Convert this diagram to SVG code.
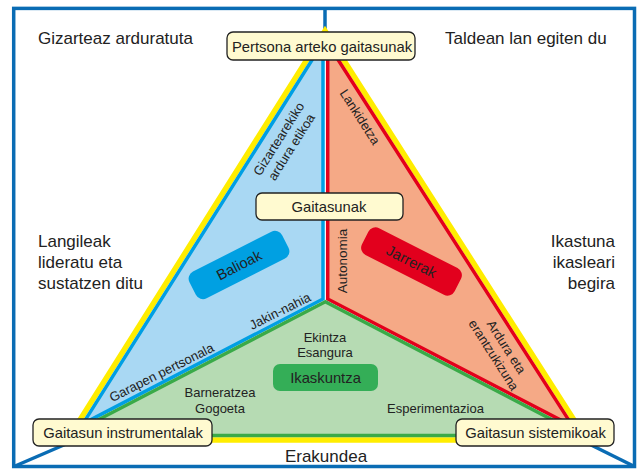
<svg xmlns="http://www.w3.org/2000/svg" width="638" height="470" viewBox="0 0 638 470">
<style>
text{font-family:"Liberation Sans",Arial,sans-serif;fill:#222}
.outer{font-size:17px}
.lbl{font-size:14.8px;text-anchor:middle}
.sm{font-size:13px;text-anchor:middle}
.box{fill:#fffad0;stroke:#222;stroke-width:1.3}
.frame{fill:none;stroke:#0a6cb4;stroke-width:3.5}
</style>
<rect width="638" height="470" fill="#fff"/>
<g id="frame"><rect class="frame" x="13.7" y="8.4" width="620.8" height="458.1"/></g>
<g id="connectors" stroke="#0a6cb4" stroke-width="3.5" fill="none">
<line x1="325" y1="8" x2="325" y2="30"/>
<line x1="14" y1="466.5" x2="80" y2="438"/>
<line x1="634.5" y1="466.5" x2="575" y2="437"/>
</g>
<g id="triangle">
<polygon points="325,31 67.3,440 586.8,440" fill="#fff" stroke="#ffed00" stroke-width="5.5"/>
</g>
<g id="balioak-region"><polygon points="323,42.6 323,299 82.8,423.9" fill="#a9d8f3" stroke="#009fe3" stroke-width="3.5"/></g>
<g id="jarrerak-region"><polygon points="327.7,43.5 572.8,426.4 327.7,299" fill="#f5a986" stroke="#e3001b" stroke-width="3.5"/></g>
<g id="ikaskuntza-region"><polygon points="325.3,301.7 79,429.8 75.5,435.5 578.6,435.5 576.6,432.4" fill="#b6dbb3" stroke="#3aaa48" stroke-width="3.5"/></g>

<g id="outer-labels">
<text class="outer" x="38" y="43.5">Gizarteaz arduratuta</text>
<text class="outer" x="445" y="43.5">Taldean lan egiten du</text>
<text class="outer" x="38" y="247">Langileak</text>
<text class="outer" x="38" y="268">lideratu eta</text>
<text class="outer" x="38" y="289">sustatzen ditu</text>
<text class="outer" x="615" y="247" text-anchor="end">Ikastuna</text>
<text class="outer" x="615" y="268" text-anchor="end">ikasleari</text>
<text class="outer" x="615" y="289" text-anchor="end">begira</text>
<text class="outer" x="326" y="462" text-anchor="middle">Erakundea</text>
</g>

<g id="inner-labels">
<g transform="translate(285,143) rotate(-57.8)"><text class="sm" y="-3">Gizartearekiko</text><text class="sm" y="12">ardura etikoa</text></g>
<g transform="translate(360,117) rotate(57.4)"><text class="sm" y="4.5">Lankidetza</text></g>
<g transform="translate(500,351) rotate(57.4)"><text class="sm" y="-3">Ardura eta</text><text class="sm" y="12">erantzukizuna</text></g>
<g transform="translate(342,261) rotate(-90)"><text class="sm" y="4.5" style="font-size:13.5px">Autonomia</text></g>
<g transform="translate(280,311) rotate(-26.6)"><text class="sm" y="4.5">Jakin-nahia</text></g>
<g transform="translate(161.5,372.5) rotate(-26.6)"><text class="sm" y="4.5">Garapen pertsonala</text></g>
<text class="sm" x="325" y="341.5">Ekintza</text>
<text class="sm" x="325" y="357">Esangura</text>
<text class="sm" x="220" y="397">Barneratzea</text>
<text class="sm" x="220" y="413">Gogoeta</text>
<text class="sm" x="435.5" y="413">Esperimentazioa</text>
</g>

<g id="balioak" transform="translate(239,265) rotate(-27)"><rect x="-52" y="-15" width="104" height="30" rx="8" fill="#00a0e2"/><text class="lbl" y="5.2">Balioak</text></g>
<g id="jarrerak" transform="translate(411.5,261.5) rotate(27)"><rect x="-52" y="-15" width="104" height="30" rx="8" fill="#e2001d"/><text class="lbl" y="5.2">Jarrerak</text></g>
<g id="ikaskuntza"><rect x="273" y="364" width="105" height="27" rx="7" fill="#34ae57"/><text class="lbl" x="325.5" y="382.7">Ikaskuntza</text></g>

<g id="pertsona-arteko"><rect class="box" x="227" y="32" width="188" height="28" rx="6"/><text class="lbl" x="322" y="51.5">Pertsona arteko gaitasunak</text></g>
<g id="gaitasunak"><rect class="box" x="256" y="193" width="147" height="27" rx="6"/><text class="lbl" x="329" y="211.7">Gaitasunak</text></g>
<g id="instrumentalak"><rect class="box" x="33" y="419" width="179" height="27" rx="6"/><text class="lbl" x="123" y="437.5">Gaitasun instrumentalak</text></g>
<g id="sistemikoak"><rect class="box" x="456" y="419" width="158" height="27" rx="6"/><text class="lbl" x="535.5" y="437.5">Gaitasun sistemikoak</text></g>
</svg>
